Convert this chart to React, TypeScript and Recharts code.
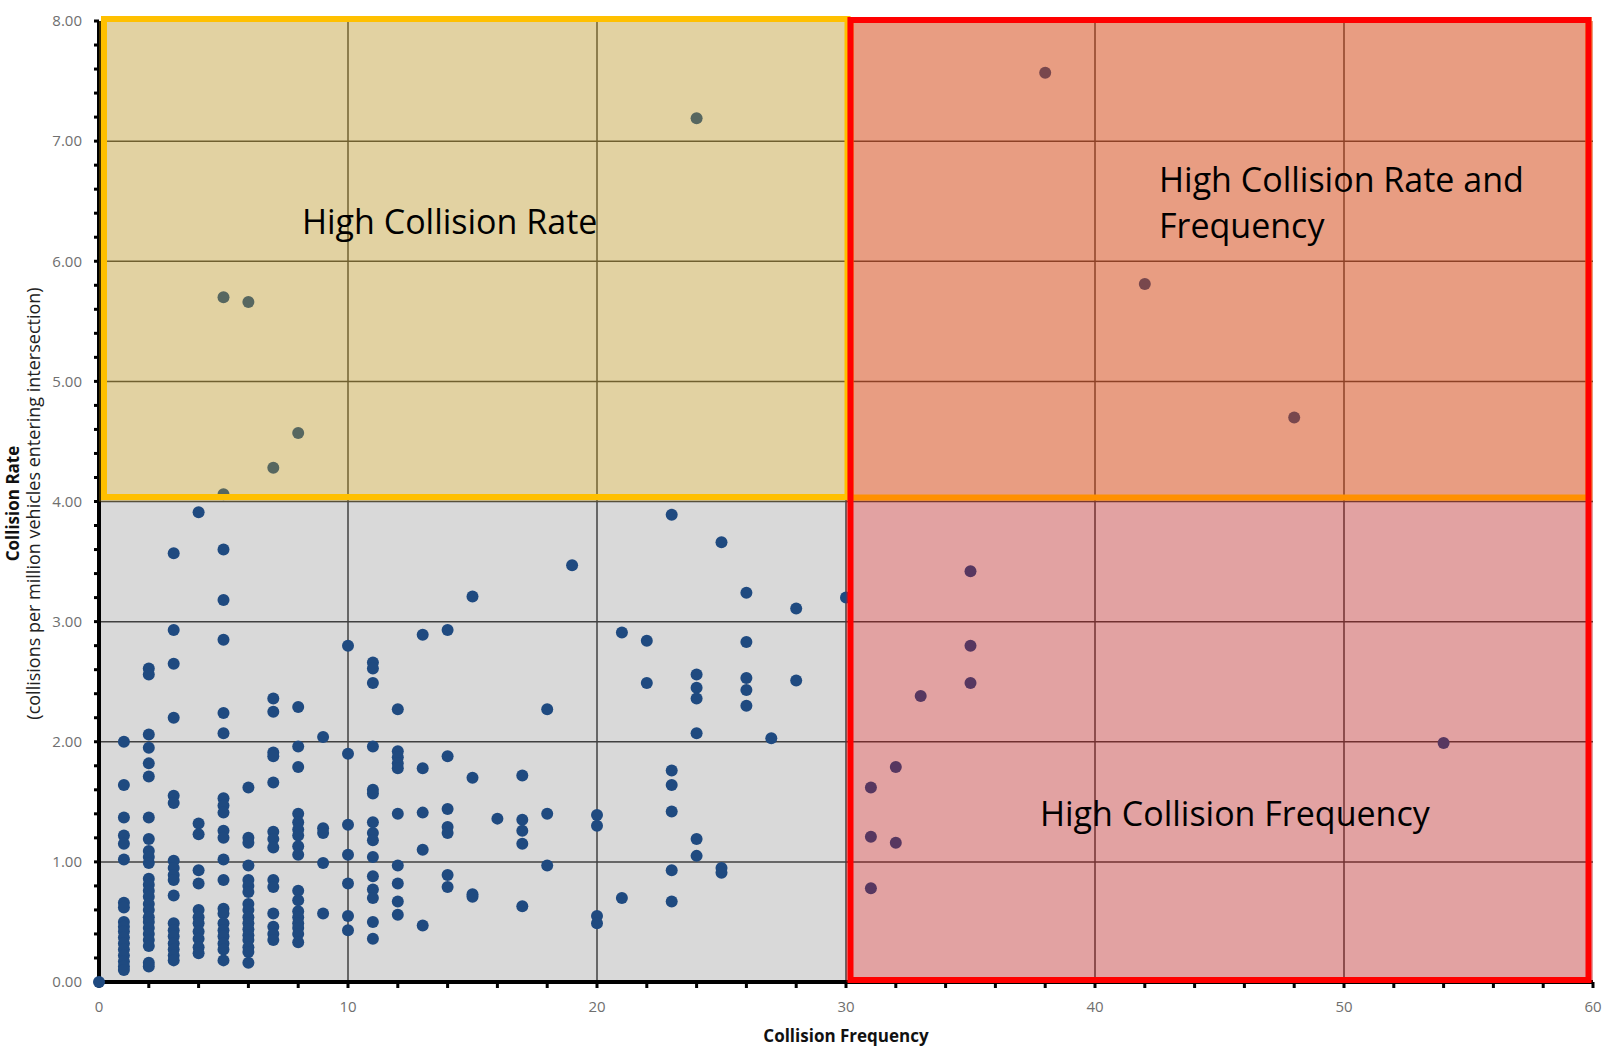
import React from 'react';
import { ScatterChart, Scatter, XAxis, YAxis, CartesianGrid, ReferenceArea } from 'recharts';

// Collision frequency (x) of each column of points
const frequencies = [0, 1, 2, 3, 4, 5, 6, 7, 8, 9, 10, 11, 12, 13, 14, 15, 16, 17, 18, 19, 20, 21, 22, 23, 24, 25, 26, 27, 28, 30, 31, 32, 33, 35, 38, 42, 48, 54];

// Collision rates observed at each frequency above (same order)
const ratesPerFrequency = [
  [0.0],
  [2.0, 1.64, 1.37, 1.22, 1.15, 1.02, 0.66, 0.62, 0.5, 0.46, 0.42, 0.37, 0.32, 0.27, 0.22, 0.17, 0.13, 0.1],
  [2.61, 2.56, 2.06, 1.95, 1.82, 1.71, 1.37, 1.19, 1.09, 1.04, 0.99, 0.86, 0.81, 0.76, 0.71, 0.65, 0.6, 0.54, 0.5, 0.45, 0.4, 0.35, 0.3, 0.16, 0.13],
  [3.57, 2.93, 2.65, 2.2, 1.55, 1.49, 1.01, 0.95, 0.89, 0.85, 0.72, 0.49, 0.43, 0.38, 0.32, 0.27, 0.22, 0.18],
  [3.91, 1.32, 1.23, 0.93, 0.82, 0.6, 0.54, 0.49, 0.42, 0.36, 0.29, 0.24],
  [5.7, 4.06, 3.6, 3.18, 2.85, 2.24, 2.07, 1.53, 1.47, 1.41, 1.26, 1.2, 1.02, 0.85, 0.61, 0.57, 0.49, 0.43, 0.38, 0.32, 0.27, 0.18],
  [5.66, 1.62, 1.2, 1.16, 0.97, 0.85, 0.8, 0.75, 0.65, 0.6, 0.54, 0.49, 0.44, 0.39, 0.35, 0.29, 0.25, 0.16],
  [4.28, 2.36, 2.25, 1.91, 1.88, 1.66, 1.25, 1.19, 1.12, 0.85, 0.79, 0.57, 0.46, 0.4, 0.35],
  [4.57, 2.29, 1.96, 1.79, 1.4, 1.33, 1.27, 1.22, 1.13, 1.06, 0.76, 0.68, 0.59, 0.54, 0.49, 0.45, 0.4, 0.33],
  [2.04, 1.28, 1.24, 0.99, 0.57],
  [2.8, 1.9, 1.31, 1.06, 0.82, 0.55, 0.43],
  [2.66, 2.61, 2.49, 1.96, 1.6, 1.57, 1.33, 1.24, 1.18, 1.04, 0.88, 0.77, 0.7, 0.5, 0.36],
  [2.27, 1.92, 1.87, 1.82, 1.78, 1.4, 0.97, 0.82, 0.67, 0.56],
  [2.89, 1.78, 1.41, 1.1, 0.47],
  [2.93, 1.88, 1.44, 1.29, 1.24, 0.89, 0.79],
  [3.21, 1.7, 0.73, 0.71],
  [1.36],
  [1.72, 1.35, 1.26, 1.15, 0.63],
  [2.27, 1.4, 0.97],
  [3.47],
  [1.39, 1.3, 0.55, 0.49],
  [2.91, 0.7],
  [2.84, 2.49],
  [3.89, 1.76, 1.64, 1.42, 0.93, 0.67],
  [7.19, 2.56, 2.45, 2.36, 2.07, 1.19, 1.05],
  [3.66, 0.95, 0.91],
  [3.24, 2.83, 2.53, 2.43, 2.3],
  [2.03],
  [3.11, 2.51],
  [3.2],
  [1.62, 1.21, 0.78],
  [1.79, 1.16],
  [2.38],
  [3.42, 2.8, 2.49],
  [7.57],
  [5.81],
  [4.7],
  [1.99],
];

const xTicks = [0, 2, 4, 6, 8, 10, 12, 14, 16, 18, 20, 22, 24, 26, 28, 30, 32, 34, 36, 38, 40, 42, 44, 46, 48, 50, 52, 54, 56, 58, 60];
const yTicks = [0, 0.2, 0.4, 0.6, 0.8, 1, 1.2, 1.4, 1.6, 1.8, 2, 2.2, 2.4, 2.6, 2.8, 3, 3.2, 3.4, 3.6, 3.8, 4, 4.2, 4.4, 4.6, 4.8, 5, 5.2, 5.4, 5.6, 5.8, 6, 6.2, 6.4, 6.6, 6.8, 7, 7.2, 7.4, 7.6, 7.8, 8];
const xGridValues = [10, 20, 30, 40, 50];
const yGridValues = [1, 2, 3, 4, 5, 6, 7];

const regionLabels = ['High Collision Rate', 'High Collision Rate and', 'Frequency', 'High Collision Frequency'];
const regionLabelX = [8.15, 42.57, 42.57, 37.79];
const regionLabelY = [6.23, 6.58, 6.19, 1.3];

const FONT = '"Open Sans", "Noto Sans", sans-serif';

const renderDot = (p: any) => <circle cx={p.cx} cy={p.cy} r={6} fill="#1f4a80" />;

const renderRegionLabel = (p: any) => (
  <text x={p.cx} y={p.cy} fontSize={34} fontFamily={FONT} fill="#000" textAnchor="start">
    {p.payload.text}
  </text>
);

const insetRect = (dl: number, dt: number, dr: number, db: number) => (p: any) => (
  <rect
    x={p.x + dl}
    y={p.y + dt}
    width={p.width - dl - dr}
    height={p.height - dt - db}
    fill="none"
    stroke={p.stroke}
    strokeWidth={p.strokeWidth}
  />
);

const renderXTitle = (p: any) => {
  const vb = p.viewBox;
  return (
    <text x={vb.x + vb.width / 2} y={vb.y + vb.height} textAnchor="middle" fontFamily={FONT} fontWeight="bold" fontSize={17} fill="#111">
      Collision Frequency
    </text>
  );
};

const renderYTitle = (p: any) => {
  const vb = p.viewBox;
  const cy = vb.y + vb.height / 2 + 2;
  const x1 = vb.x + 18.5;
  const x2 = vb.x + 39.5;
  return (
    <g>
      <text x={x1} y={cy} transform={`rotate(-90, ${x1}, ${cy})`} textAnchor="middle" fontFamily={FONT} fontWeight="bold" fontSize={17} fill="#111">
        Collision Rate
      </text>
      <text x={x2} y={cy} transform={`rotate(-90, ${x2}, ${cy})`} textAnchor="middle" fontFamily={FONT} fontSize={18} fill="#222">
        (collisions per million vehicles entering intersection)
      </text>
    </g>
  );
};

export default function App() {
  const points = frequencies.flatMap((f, i) => ratesPerFrequency[i].map((r) => ({ x: f, y: r })));
  const labels = regionLabels.map((t, i) => ({ x: regionLabelX[i], y: regionLabelY[i], text: t }));
  const tickStyle = { fill: '#6f6f6f', fontSize: 15, fontFamily: FONT };
  return (
    <div style={{ position: 'absolute', left: 0, top: 0, width: 1613, height: 1055, background: '#fff' }}>
      <ScatterChart width={1613} height={1055} margin={{ top: 21, right: 20, bottom: 13, left: 0 }}>
        <CartesianGrid
          fill="#d9d9d9"
          fillOpacity={1}
          stroke="#404040"
          strokeWidth={1.5}
          verticalValues={xGridValues}
          horizontalValues={yGridValues}
        />
        <XAxis
          type="number"
          dataKey="x"
          domain={[0, 60]}
          ticks={xTicks}
          interval={0}
          height={60}
          tickFormatter={(v: number) => (v % 10 === 0 ? String(v) : '')}
          axisLine={{ stroke: '#000', strokeWidth: 4 }}
          tickLine={{ stroke: '#000', strokeWidth: 3 }}
          tickSize={6}
          tickMargin={13}
          tick={tickStyle}
          label={renderXTitle}
        />
        <YAxis
          type="number"
          dataKey="y"
          domain={[0, 8]}
          ticks={yTicks}
          interval={0}
          width={99}
          tickFormatter={(v: number) => (Math.abs(v - Math.round(v)) < 1e-6 ? v.toFixed(2) : '')}
          axisLine={{ stroke: '#000', strokeWidth: 4 }}
          tickLine={{ stroke: '#000', strokeWidth: 3 }}
          tickSize={5}
          tickMargin={12}
          tick={tickStyle}
          label={renderYTitle}
        />
        <Scatter data={points} shape={renderDot} isAnimationActive={false} />
        <ReferenceArea x1={0} x2={30} y1={4} y2={8} fill="#ffc000" fillOpacity={0.25} stroke="none" ifOverflow="visible" zIndex={650} />
        <ReferenceArea x1={30} x2={60} y1={0} y2={4} fill="#ff0000" fillOpacity={0.25} stroke="none" ifOverflow="visible" zIndex={650} />
        <ReferenceArea x1={30} x2={60} y1={4} y2={8} fill="#ff4400" fillOpacity={0.4} stroke="none" ifOverflow="visible" zIndex={650} />
        <ReferenceArea x1={0} x2={30} y1={4} y2={8} stroke="#ffc000" strokeWidth={6} shape={insetRect(5, -2, -1.5, 4.5)} ifOverflow="visible" zIndex={660} />
        <ReferenceArea x1={30} x2={60} y1={4} y2={8} stroke="#ff9000" strokeWidth={6} shape={insetRect(4.5, -1, 4.5, 4)} ifOverflow="visible" zIndex={661} />
        <ReferenceArea x1={30} x2={60} y1={0} y2={8} stroke="#ff0000" strokeWidth={6} shape={insetRect(4.5, -1, 4.5, 2)} ifOverflow="visible" zIndex={662} />
        <Scatter data={labels} shape={renderRegionLabel} isAnimationActive={false} zIndex={700} />
      </ScatterChart>
    </div>
  );
}
